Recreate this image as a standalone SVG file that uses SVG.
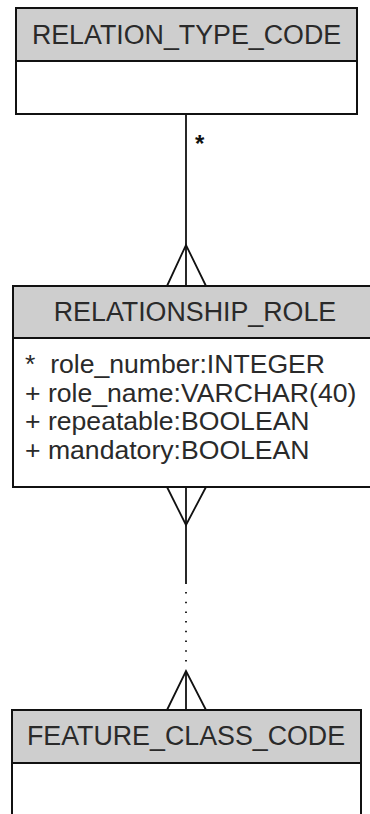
<svg xmlns="http://www.w3.org/2000/svg" width="370" height="814" viewBox="0 0 370 814">
<style>
.box{fill:#ffffff;stroke:#111111;stroke-width:2}
.hdr{fill:#cecece;stroke:#111111;stroke-width:2}
.title{font-family:"Liberation Sans",Arial,sans-serif;font-size:26.8px;fill:#2a2a2a;text-anchor:middle}
.attr{font-family:"Liberation Sans",Arial,sans-serif;font-size:26.6px;fill:#2a2a2a;white-space:pre}
.ln{fill:none;stroke:#111111;stroke-width:1.8}
.dot{fill:none;stroke:#111111;stroke-width:1.8;stroke-dasharray:1.5 8.2}
.mult{font-family:"Liberation Sans",Arial,sans-serif;font-size:24px;font-weight:bold;fill:#111111}
</style>
<g id="connectors">
<line class="ln" x1="186" y1="114" x2="186" y2="286"/>
<polyline class="ln" points="167,286 186,245 206,286"/>
<text class="mult" x="195" y="152">*</text>
<line class="ln" x1="186" y1="487" x2="186" y2="584"/>
<polyline class="ln" points="167,487 186,525 206,487"/>
<line class="dot" x1="186" y1="592" x2="186" y2="664"/>
<line class="ln" x1="186" y1="671" x2="186" y2="710"/>
<polyline class="ln" points="167,710 186,671 206,710"/>
</g>
<g id="relation_type_code">
<rect class="box" x="16" y="8" width="341" height="106"/>
<rect class="hdr" x="16" y="8" width="341" height="53"/>
<text class="title" x="186.5" y="44">RELATION_TYPE_CODE</text>
</g>
<g id="relationship_role">
<rect class="box" x="13" y="286" width="364" height="201"/>
<rect class="hdr" x="13" y="286" width="364" height="52"/>
<text class="title" x="195" y="321">RELATIONSHIP_ROLE</text>
<text class="attr" x="25" y="373">*  role_number:INTEGER</text>
<text class="attr" x="25" y="401.5">+ role_name:VARCHAR(40)</text>
<text class="attr" x="25" y="430">+ repeatable:BOOLEAN</text>
<text class="attr" x="25" y="458.5">+ mandatory:BOOLEAN</text>
</g>
<g id="feature_class_code">
<rect class="box" x="12" y="710" width="349" height="120"/>
<rect class="hdr" x="12" y="710" width="349" height="53"/>
<text class="title" x="186" y="745">FEATURE_CLASS_CODE</text>
</g>
</svg>
